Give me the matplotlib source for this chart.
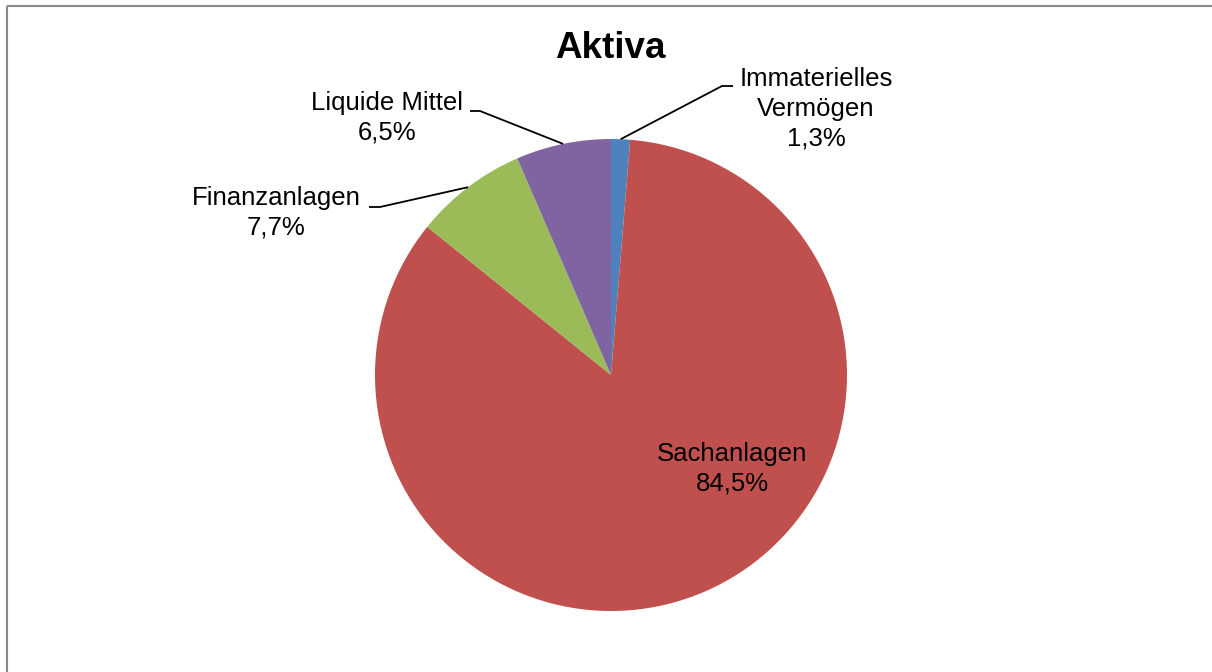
import numpy as np
import matplotlib.pyplot as plt
from matplotlib.patches import Rectangle

plt.rcParams['font.family'] = ['Liberation Sans', 'DejaVu Sans']

# data
categories = ["Immaterielles\nVermögen", "Sachanlagen", "Finanzanlagen", "Liquide Mittel"]
shares = [1.3, 84.5, 7.7, 6.5]
colors = ["#4F81BD", "#C0504D", "#9BBB59", "#8064A2"]

# layout (pixel coordinates, y pointing down)
W, H = 1212, 672
center = (611, 375)
radius = 236
label_pos = [(816, 109), (732, 469), (276, 213), (387, 118)]
# elbow of leader line and end of its short horizontal stub (None = label inside)
leader = [((722, 86), (733, 86)), None, ((380, 207), (369, 207)), ((480, 111), (470, 111))]


def fmt(v):
    return f"{v:.1f}%".replace(".", ",")


fig = plt.figure(figsize=(W / 100, H / 100), dpi=100)
ax = fig.add_axes([0, 0, 1, 1])

# y axis inverted -> start at -90 and counterclock=True looks clockwise from top
wedges, _ = ax.pie(shares, colors=colors, center=center, radius=radius,
                   startangle=-90, counterclock=True,
                   wedgeprops=dict(linewidth=0))
ax.set_xlim(0, W)
ax.set_ylim(H, 0)
ax.set_aspect('auto')
ax.axis('off')

for w, cat, val, pos, ld in zip(wedges, categories, shares, label_pos, leader):
    ax.text(pos[0], pos[1], f"{cat}\n{fmt(val)}", ha='center', va='center',
            multialignment='center', fontsize=18.5, linespacing=1.3, color='black')
    if ld is not None:
        mid = np.deg2rad((w.theta1 + w.theta2) / 2)
        ax_x = center[0] + radius * np.cos(mid)
        ax_y = center[1] + radius * np.sin(mid)
        (ex, ey), (sx, sy) = ld
        ax.plot([ax_x, ex, sx], [ax_y, ey, sy], color='black', lw=1.3,
                solid_capstyle='butt')

ax.text(610, 58, "Aktiva", ha='center', va='baseline', fontsize=26.5,
        fontweight='bold')

# chart frame (right and bottom edges fall outside the image)
ax.add_patch(Rectangle((6.5, 6), 1400, 900, fill=False, edgecolor='#898989',
                       lw=1.5, clip_on=False))

fig.savefig("out.png", dpi=100)
